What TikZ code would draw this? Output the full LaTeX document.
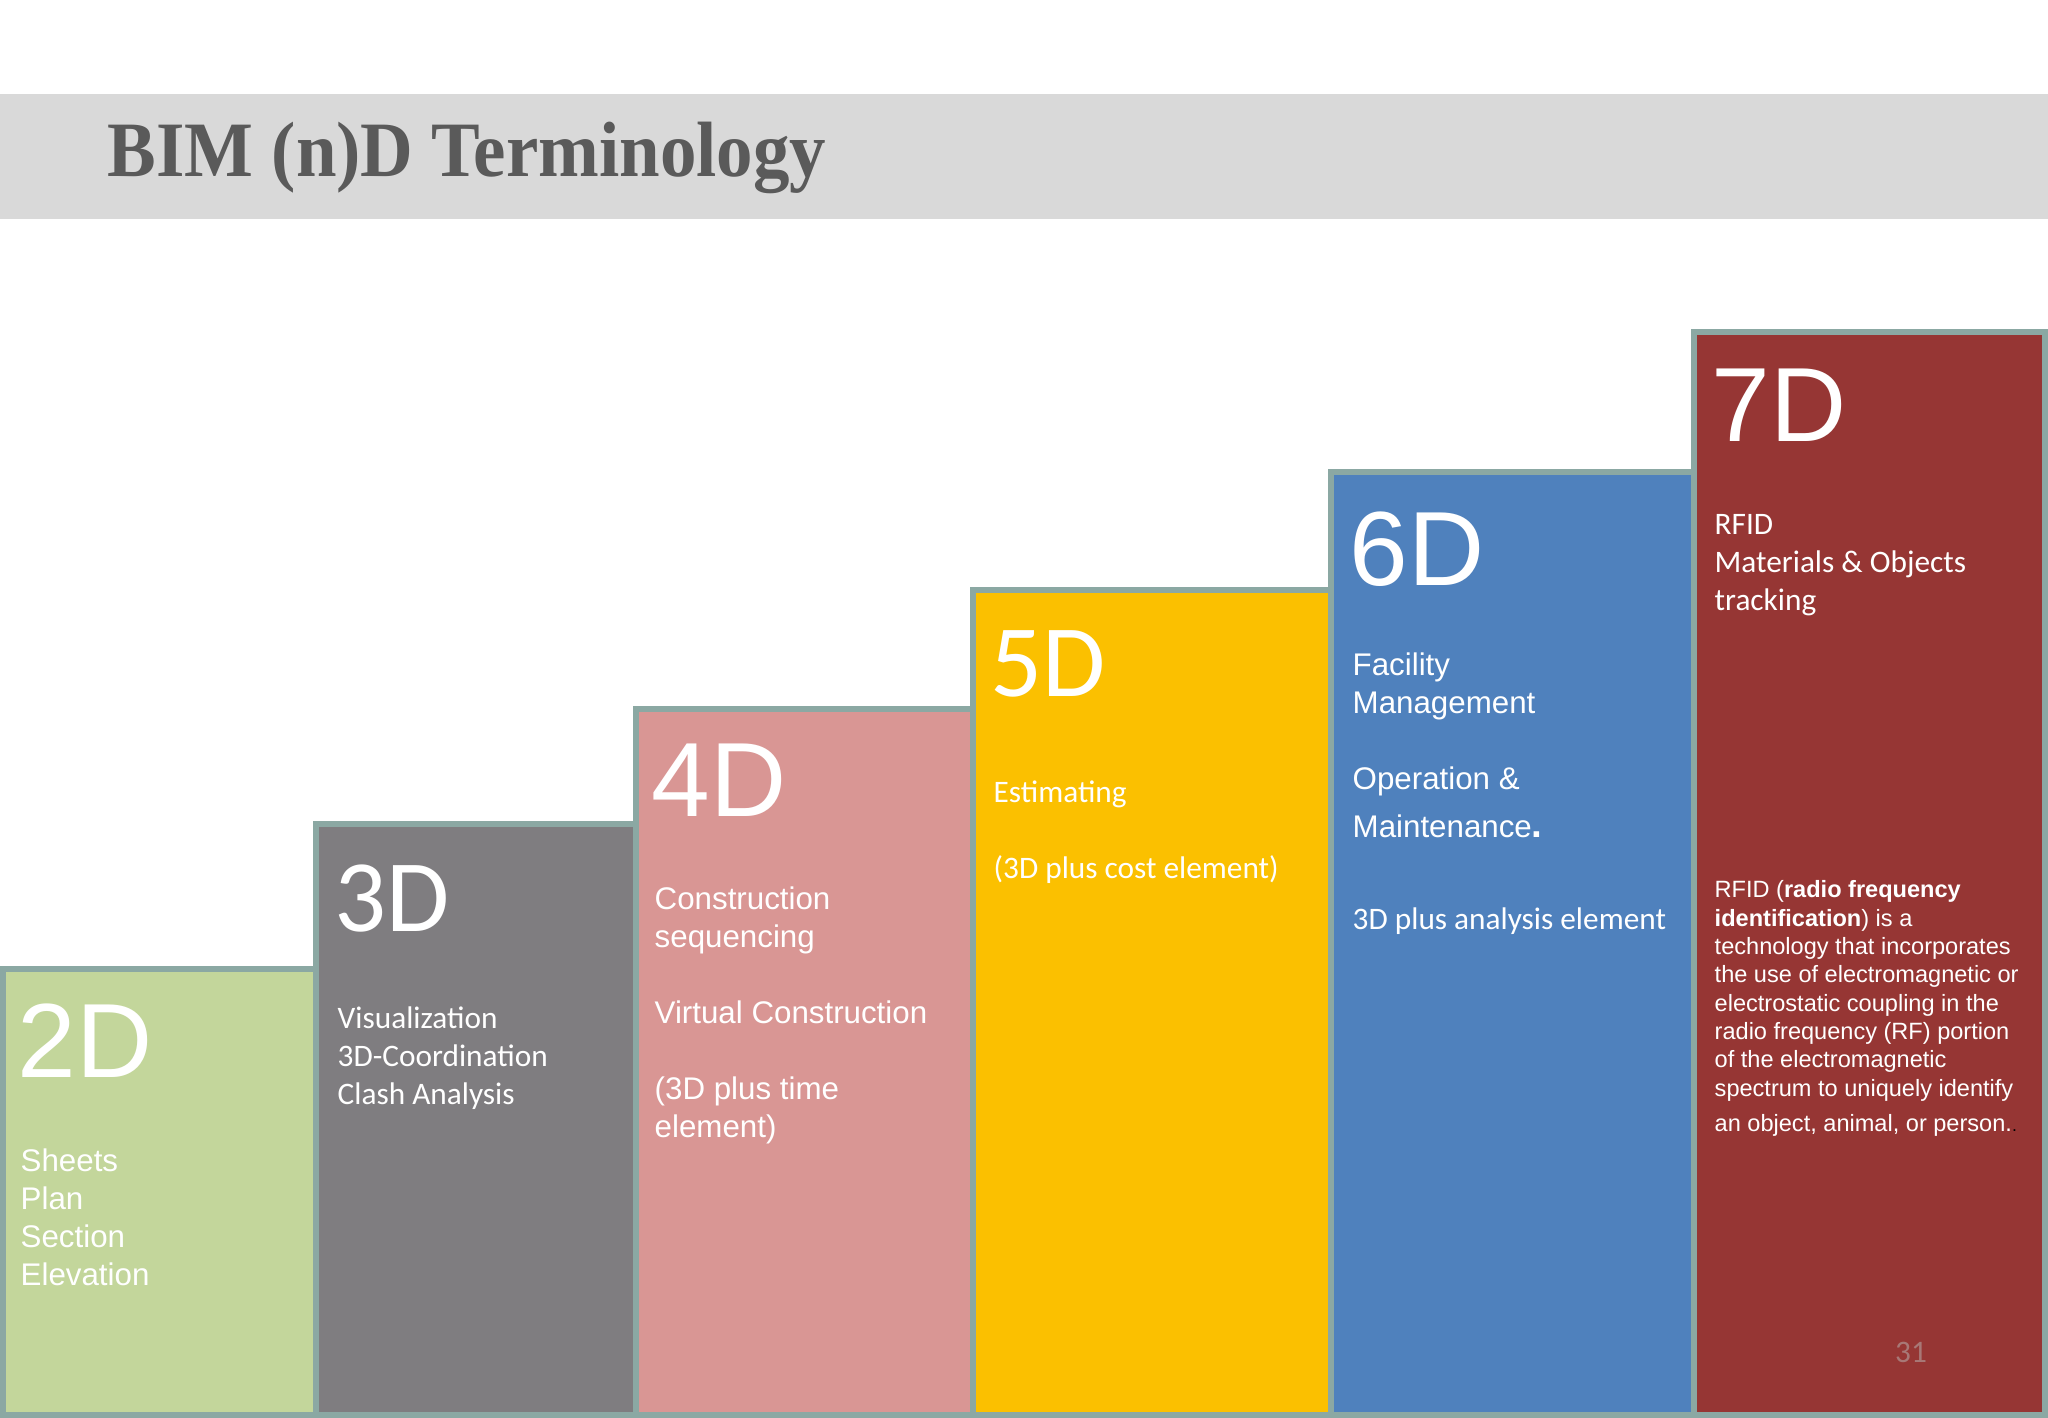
\documentclass[tikz,border=0pt]{standalone}
\usepackage{fontspec}
\setmainfont{Liberation Sans}
\newfontfamily\calfont{Carlito}
\newfontfamily\titlefont[FakeStretch=0.93]{Liberation Serif}
\usepackage{xcolor}
\usepackage{tikz}
\usetikzlibrary{positioning}
\definecolor{bandgray}{HTML}{D9D9D9}
\definecolor{titlegray}{HTML}{5A5A5A}
\definecolor{edgeteal}{HTML}{8BA8A3}
\definecolor{dimgreen}{HTML}{C3D69B}
\definecolor{dimgray}{HTML}{7F7D80}
\definecolor{dimpink}{HTML}{D99694}
\definecolor{dimyellow}{HTML}{FBC000}
\definecolor{dimblue}{HTML}{4F81BD}
\definecolor{dimred}{HTML}{963634}
\definecolor{pagenum}{HTML}{A87876}
\newcommand{\dimsize}{\fontsize{30}{32}\selectfont}
\newcommand{\caldimsize}{\fontsize{29.2}{31}\selectfont}
\newcommand{\bodysize}{\fontsize{8.9}{10.8}\selectfont}
\newcommand{\notesize}{\fontsize{6.7}{8.05}\selectfont}

\begin{document}
\begin{tikzpicture}[x=0.01cm, y=-0.01cm,
  bar/.style={draw=edgeteal, line width=0.06cm},
  dimlabel/.style={anchor=base west, inner sep=0, text=white, font=\dimsize},
  body/.style={anchor=base west, inner sep=0, text=white, align=left, font=\bodysize}]
  % Page and title band
  \fill[white] (0,0) rectangle (2048,1418);
  \useasboundingbox (0,0) rectangle (2048,1418);
  \fill[bandgray] (0,94) rectangle (2048,219);
  \node[anchor=base west, inner sep=0, text=titlegray,
    font=\titlefont\bfseries\fontsize{22.3}{24}\selectfont] (title) at (107,176)
    {BIM (n)D Terminology};

  % The staircase of bars
  \foreach \xa/\xb/\top/\col in {3/316/969/dimgreen, 316/636/824/dimgray,
      636/973/709/dimpink, 973/1331/590/dimyellow,
      1331/1694/472/dimblue, 1694/2045/332/dimred} {
    \draw[bar, fill=\col] (\xa,\top) rectangle (\xb,1415);
  }

  % 2D (multi-line texts sit on their last baseline)
  \node[dimlabel] (d2) at (17,1077) {2D};
  \node[body] (d2text) at (20,1285) {Sheets\\Plan\\Section\\Elevation};

  % 3D
  \node[dimlabel, font=\calfont\caldimsize] (d3) at (334,931) {3D};
  \node[body, font=\calfont\bodysize] (d3text) at (337,1104)
    {Visualization\\3D-Coordination\\Clash Analysis};

  % 4D
  \node[dimlabel] (d4) at (651,816) {4D};
  \node[body] (d4text) at (654,1137)
    {Construction\\sequencing\\[10.8pt]Virtual Construction\\[10.8pt](3D plus time\\element)};

  % 5D
  \node[dimlabel, font=\calfont\caldimsize] (d5) at (990,696) {5D};
  \node[body, font=\calfont\bodysize] (d5text) at (993,878)
    {Estimating\\[10.8pt](3D plus cost element)};

  % 6D
  \node[dimlabel] (d6) at (1349,585) {6D};
  \node[body] (d6text) at (1352,713) {Facility\\Management};
  \node[body] (d6ops) at (1352,789) {Operation \&};
  \node[body] (d6main) at (1352,837) {Maintenance{\fontsize{11}{11}\selectfont\bfseries .}};
  \node[body, font=\calfont\bodysize] (d6note) at (1352,929) {3D plus analysis element};

  % 7D
  \node[dimlabel] (d7) at (1711,441) {7D};
  \node[body, font=\calfont\bodysize] (d7text) at (1714,610)
    {RFID\\Materials \& Objects\\tracking};
  \node[body, font=\notesize] (d7note) at (1714,1131)
    {RFID (\textbf{radio frequency}\\\textbf{identification}) is a\\technology that incorporates\\the use of electromagnetic or\\electrostatic coupling in the\\radio frequency (RF) portion\\of the electromagnetic\\spectrum to uniquely identify\\[1.9pt]an object, animal, or person.{\color{black}\tiny .}};

  % Slide number
  \node[anchor=base, inner sep=0, text=pagenum, font=\calfont\bodysize] (pnum) at (1911,1362) {31};
\end{tikzpicture}
\end{document}
